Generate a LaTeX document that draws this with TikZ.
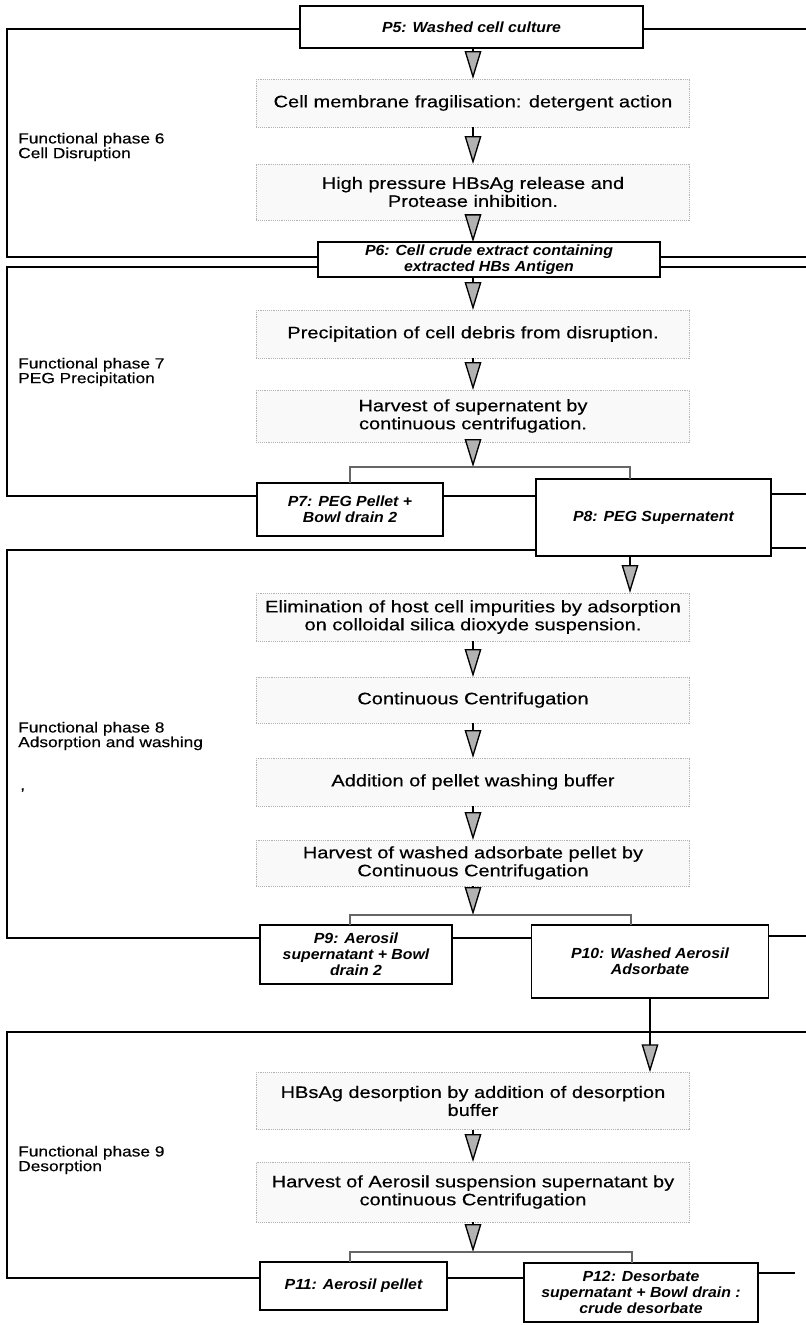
\documentclass[tikz,border=0pt]{standalone}
\usepackage{fontspec}
\usepackage{tikz}
\usetikzlibrary{arrows.meta}
\newfontfamily\procfont{Liberation Sans}[FakeStretch=1.2,FakeBold=0.3]
\newfontfamily\prodfont{Liberation Sans}[FakeStretch=1.08]
\newfontfamily\phasefont{Liberation Sans}[FakeStretch=1.18,FakeBold=0.3]
\tikzset{
    procbox/.style = {
        align=center,
        rectangle,
        draw=gray!60,
        densely dotted,
        fill=gray!5,
        font=\procfont\fontsize{12.5}{13.5}\selectfont,
        minimum width=325pt,
        minimum height=36pt,
        inner sep=0pt,
        outer sep=0pt
    },
    prodbox/.style = {
        align=center,
        rectangle,
        draw=black,
        line width=1.2pt,
        fill=white,
        font=\prodfont\bfseries\itshape\fontsize{11}{12}\selectfont,
        inner sep=0pt,
        outer sep=0pt
    },
    phaselabel/.style = {
        align=left,
        anchor=west,
        inner sep=0pt,
        font=\phasefont\fontsize{11}{11}\selectfont
    },
    frame/.style = {
        draw=black,
        line width=1.3pt
    },
    flow/.style = {
        draw=black,
        line width=1pt,
        -{Triangle[width=12.5pt,length=21pt,fill=gray!60]}
    },
    split/.style = {
        draw=black!60,
        line width=1.2pt
    }
}
\begin{document}
\begin{tikzpicture}[x=0.75pt,y=-0.75pt]
    \useasboundingbox (0,0) rectangle (806,1325);
    \node [prodbox, minimum width=257pt, minimum height=31.5pt] (P5) at (471.5,27) {P5: Washed cell culture};
    \node [procbox] (A1) at (473,103) {Cell membrane fragilisation: detergent action};
    \node [procbox, minimum height=42pt] (A2) at (473,192) {High pressure HBsAg release and\\Protease inhibition.};
    \node [prodbox, minimum width=256.5pt, minimum height=26pt] (P6) at (489,259.5) {P6: Cell crude extract containing\\extracted HBs Antigen};
    \node [procbox] (B1) at (473,334) {Precipitation of cell debris from disruption.};
    \node [procbox, minimum height=39pt] (B2) at (473,416) {Harvest of supernatent by\\continuous centrifugation.};
    \node [prodbox, minimum width=139.5pt, minimum height=40pt] (P7) at (350,509.5) {P7: PEG Pellet +\\Bowl drain 2};
    \node [prodbox, minimum width=176pt, minimum height=58pt] (P8) at (653.5,517.5) {P8: PEG Supernatent};
    \node [procbox] (C1) at (473,617) {Elimination of host cell impurities by adsorption\\on colloidal silica dioxyde suspension.};
    \node [procbox, minimum height=34.5pt] (C2) at (473,700) {Continuous Centrifugation};
    \node [procbox] (C3) at (473,782) {Addition of pellet washing buffer};
    \node [procbox, minimum height=34.5pt] (C4) at (473,863) {Harvest of washed adsorbate pellet by\\Continuous Centrifugation};
    \node [prodbox, minimum width=144pt, minimum height=44pt] (P9) at (356,954.5) {P9: Aerosil\\supernatant + Bowl\\drain 2};
    \node [prodbox, minimum width=178pt, minimum height=55pt] (P10) at (650,961.5) {P10: Washed Aerosil\\Adsorbate};
    \node [procbox, minimum height=43pt] (D1) at (473,1101) {HBsAg desorption by addition of desorption\\buffer};
    \node [procbox, minimum height=45pt] (D2) at (473,1192) {Harvest of Aerosil suspension supernatant by\\continuous Centrifugation};
    \node [prodbox, minimum width=140pt, minimum height=36pt] (P11) at (353.5,1286) {P11: Aerosil pellet};
    \node [prodbox, minimum width=175.5pt, minimum height=44pt] (P12) at (641,1292.5) {P12: Desorbate\\supernatant + Bowl drain :\\crude desorbate};

    \node [phaselabel] (L6) at (18,147) {Functional phase 6\\Cell Disruption};
    \node [phaselabel] (L7) at (18,372) {Functional phase 7\\PEG Precipitation};
    \node [phaselabel] (L8) at (18,736) {Functional phase 8\\Adsorption and washing};
    \node [phaselabel] (L8b) at (20,790) {,};
    \node [phaselabel] (L9) at (18,1160) {Functional phase 9\\Desorption};

    \coordinate (f6a) at (7,29);
    \coordinate (f6b) at (7,257);
    \coordinate (f6c) at (806,29);
    \coordinate (f6d) at (806,257);
    \coordinate (f7a) at (7,267);
    \coordinate (f7b) at (7,496);
    \coordinate (f7c) at (806,267);
    \coordinate (f7d) at (806,494);
    \coordinate (f8a) at (7,550);
    \coordinate (f8b) at (7,938);
    \coordinate (f8c) at (806,548);
    \coordinate (f8d) at (806,936);
    \coordinate (f9a) at (7,1032);
    \coordinate (f9b) at (7,1278);
    \coordinate (f9c) at (806,1032);
    \coordinate (f9d) at (795,1273);
    \coordinate (s7) at (473,467);
    \coordinate (s7r) at (630,467);
    \coordinate (s8) at (473,915);
    \coordinate (s8r) at (631,915);
    \coordinate (s9) at (473,1252);
    \coordinate (s9r) at (632,1252);

    \draw [frame] (P5.west |- f6a) -- (f6a) -- (f6b) -- (P6.west |- f6b);
    \draw [frame] (P5.east |- f6a) -- (f6c);
    \draw [frame] (P6.east |- f6b) -- (f6d);
    \draw [frame] (P6.west |- f7a) -- (f7a) -- (f7b) -- (P7.west |- f7b);
    \draw [frame] (P6.east |- f7a) -- (f7c);
    \draw [frame] (P7.east |- f7b) -- (P8.west |- f7b);
    \draw [frame] (P8.east |- f7d) -- (f7d);
    \draw [frame] (P8.west |- f8a) -- (f8a) -- (f8b) -- (P9.west |- f8b);
    \draw [frame] (P8.east |- f8c) -- (f8c);
    \draw [frame] (P9.east |- f8b) -- (P10.west |- f8b);
    \draw [frame] (P10.east |- f8d) -- (f8d);
    \draw [frame] (f9c) -- (f9a) -- (f9b) -- (P11.west |- f9b);
    \draw [frame] (P11.east |- f9b) -- (P12.west |- f9b);
    \draw [frame] (P12.east |- f9d) -- (f9d);

    \draw [flow] (P5.south -| A1.north) -- (A1.north);
    \draw [flow] (A1.south) -- (A2.north);
    \draw [flow] (A2.south) -- (A2.south |- P6.north);
    \draw [flow] (P6.south -| B1.north) -- (B1.north);
    \draw [flow] (B1.south) -- (B2.north);
    \draw [flow] (B2.south) -- (s7);
    \draw [split] (P7.north) |- (s7r) -- (s7r |- P8.north);
    \draw [flow] (s7r |- P8.south) -- (s7r |- C1.north);
    \draw [flow] (C1.south) -- (C2.north);
    \draw [flow] (C2.south) -- (C3.north);
    \draw [flow] (C3.south) -- (C4.north);
    \draw [flow] (C4.south) -- (s8);
    \draw [split] (P9.north -| P7.north) |- (s8r) -- (s8r |- P10.north);
    \draw [flow] (P10.south) -- (P10.south |- D1.north);
    \draw [flow] (D1.south) -- (D2.north);
    \draw [flow] (D2.south) -- (s9);
    \draw [split] (P11.north -| P7.north) |- (s9r) -- (s9r |- P12.north);
\end{tikzpicture}
\end{document}
